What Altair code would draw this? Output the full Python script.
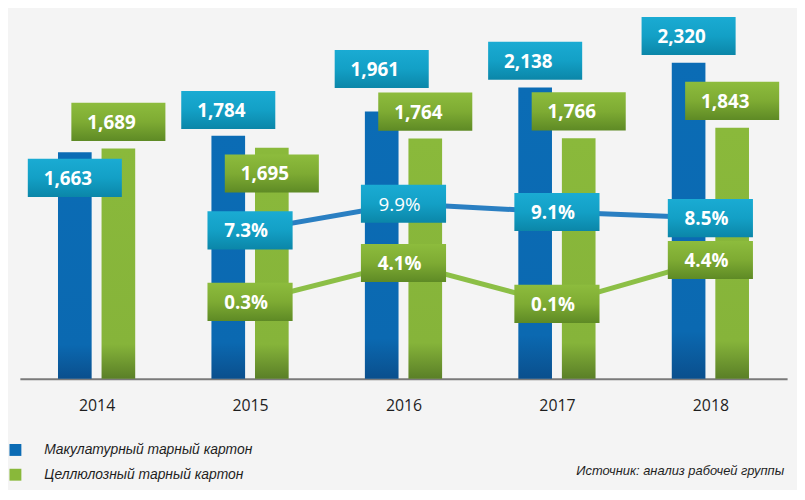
import altair as alt
import pandas as pd

# ---------------- data ----------------
years = [2014, 2015, 2016, 2017, 2018]
recycled = [1663, 1784, 1961, 2138, 2320]      # Макулатурный тарный картон
virgin = [1689, 1695, 1764, 1766, 1843]        # Целлюлозный тарный картон
growth_years = [2015, 2016, 2017, 2018]
recycled_growth = [7.3, 9.9, 9.1, 8.5]
virgin_growth = [0.3, 4.1, 0.1, 4.4]
series_names = ["Макулатурный тарный картон", "Целлюлозный тарный картон"]
source_text = "Источник:  анализ рабочей группы"

# ---------------- layout (pixels) ----------------
W, H = 775, 370
VMAX = 2689.0                 # value scale top
PMIN, PMAX = -7.22, 28.63     # percent scale
PX_YEAR = W / 5.0
PX_VAL = H / VMAX
PX_PCT = H / (PMAX - PMIN)
BAR_HALF = 17 / PX_YEAR
BAR_SHIFT = 22 / PX_YEAR
VBOX_HALF_W = 47.5 / PX_YEAR
PBOX_HALF_W = 43 / PX_YEAR
BOX_HALF_H = 19.25
recycled_label_shift = [-26, 26, 43, 27, 27]   # px above bar top (neg = below)
virgin_label_shift = [27, -26, 27, 27, 27]
recycled_growth_weight = ["bold", "normal", "bold", "bold"]
virgin_growth_weight = ["bold", "bold", "bold", "bold"]

BLUE_BAR = "#0b6bb4"
GREEN_BAR = "#89b83a"
ITALIC_FONT = "Liberation Sans, Arial, sans-serif"


def grad(top, mid, bottom, mid_off):
    return alt.Gradient(
        gradient="linear",
        stops=[alt.GradientStop(color=top, offset=0),
               alt.GradientStop(color=mid, offset=mid_off),
               alt.GradientStop(color=bottom, offset=1)],
        x1=0, x2=0, y1=0, y2=1)


blue_bar_grad = grad("#0b6cb5", "#0b69b1", "#0a4f8d", 0.85)
green_bar_grad = grad("#8ab93b", "#86b43a", "#5a7f27", 0.85)
blue_box_grad = grad("#1aabd3", "#13a0c6", "#0b86a8", 0.5)
green_box_grad = grad("#8dbc3d", "#7eab33", "#5e8a25", 0.5)


def bar_frame(values, shifts, side, name):
    rows = []
    for yr, v, s in zip(years, values, shifts):
        xc = yr + side * BAR_SHIFT
        yc = v + s / PX_VAL
        rows.append(dict(series=name, year=yr, value=v, zero=0,
                         x0=xc - BAR_HALF, x1=xc + BAR_HALF,
                         bx0=xc - VBOX_HALF_W, bx1=xc + VBOX_HALF_W,
                         xc=xc, yc=yc,
                         by0=yc - BOX_HALF_H / PX_VAL, by1=yc + BOX_HALF_H / PX_VAL,
                         label=f"{v:,}"))
    return pd.DataFrame(rows)


def pct_frame(values, weights):
    rows = []
    for yr, p, w in zip(growth_years, values, weights):
        rows.append(dict(year=yr, pct=p, weight=w,
                         bx0=yr - PBOX_HALF_W, bx1=yr + PBOX_HALF_W,
                         by0=p - BOX_HALF_H / PX_PCT, by1=p + BOX_HALF_H / PX_PCT,
                         label=f"{p}%"))
    return pd.DataFrame(rows)


blue_df = bar_frame(recycled, recycled_label_shift, -1, series_names[0])
green_df = bar_frame(virgin, virgin_label_shift, 1, series_names[1])
all_bars = pd.concat([blue_df, green_df])
blue_pct = pct_frame(recycled_growth, recycled_growth_weight)
green_pct = pct_frame(virgin_growth, virgin_growth_weight)

XS = alt.Scale(domain=[2013.5, 2018.5], nice=False, zero=False)
X_AXIS = alt.Axis(values=years, format="d", title=None, grid=False, ticks=False,
                  labelFont="Open Sans", labelFontSize=16, labelColor="#1e1e1e",
                  labelPadding=19, domainColor="#7a7a7a", domainWidth=2)
VS = alt.Scale(domain=[0, VMAX], nice=False, zero=False)
PS = alt.Scale(domain=[PMIN, PMAX], nice=False, zero=False)


def X(field):
    return alt.X(field, type="quantitative", scale=XS, axis=X_AXIS)


def Yv(field):
    return alt.Y(field, type="quantitative", scale=VS, axis=None)


def Yp(field):
    return alt.Y(field, type="quantitative", scale=PS, axis=None)


def bars(df, g):
    return alt.Chart(df).mark_rect(color=g).encode(
        x=X("x0"), x2="x1", y=Yv("zero"), y2="value")


def vboxes(df, g):
    return alt.Chart(df).mark_rect(color=g).encode(
        x=X("bx0"), x2="bx1", y=Yv("by0"), y2="by1")


def vtext(df):
    return alt.Chart(df).mark_text(font="Open Sans", fontWeight="bold", fontSize=19,
                                   color="white", dx=-7, dy=1, baseline="middle").encode(
        x=X("xc"), y=Yv("yc"), text="label:N")


def pline(df, c):
    return alt.Chart(df).mark_line(color=c, strokeWidth=5).encode(
        x=X("year"), y=Yp("pct"))


def pboxes(df, g):
    return alt.Chart(df).mark_rect(color=g).encode(
        x=X("bx0"), x2="bx1", y=Yp("by0"), y2="by1")


def ptext(df, weight):
    return alt.Chart(df).transform_filter(alt.datum.weight == weight).mark_text(
        font="Open Sans", fontWeight=weight, fontSize=19, color="white",
        dx=-4, dy=1, baseline="middle").encode(
        x=X("year"), y=Yp("pct"), text="label:N")


legend_layer = alt.Chart(all_bars).mark_square(opacity=0).encode(
    x=X("xc"), y=Yv("value"),
    color=alt.Color("series:N",
                    scale=alt.Scale(domain=series_names, range=[BLUE_BAR, GREEN_BAR]),
                    legend=alt.Legend(orient="none", legendX=-11.5, legendY=435,
                                      title=None, symbolType="square", symbolSize=144,
                                      symbolOpacity=1, symbolStrokeWidth=0,
                                      labelFont=ITALIC_FONT, labelLimit=0,
                                      labelFontStyle="italic", labelFontSize=14,
                                      labelColor="#1e1e1e", labelOffset=22,
                                      rowPadding=11, padding=0)))

source_layer = alt.Chart(pd.DataFrame({"t": [source_text]})).mark_text(
    align="right", baseline="middle", font=ITALIC_FONT,
    fontStyle="italic", fontSize=13, color="#1e1e1e").encode(
    x=alt.value(772), y=alt.value(463), text="t:N")

chart = alt.layer(
    bars(blue_df, blue_bar_grad),
    bars(green_df, green_bar_grad),
    pline(blue_pct, "#2a7fc2"),
    pline(green_pct, "#8cbf46"),
    vboxes(blue_df, blue_box_grad),
    vboxes(green_df, green_box_grad),
    vtext(blue_df),
    vtext(green_df),
    pboxes(blue_pct, blue_box_grad),
    pboxes(green_pct, green_box_grad),
    ptext(blue_pct, "bold"),
    ptext(blue_pct, "normal"),
    ptext(green_pct, "bold"),
    legend_layer,
    source_layer,
).resolve_scale(y="independent").properties(
    width=W, height=H, background="#f4f4f4",
    autosize=alt.AutoSizeParams(type="none"),
    padding={"left": 12, "top": 2, "right": 10, "bottom": 110},
).configure_view(stroke=None)

chart.save("out.html", embed_options={"renderer": "svg", "actions": False})
